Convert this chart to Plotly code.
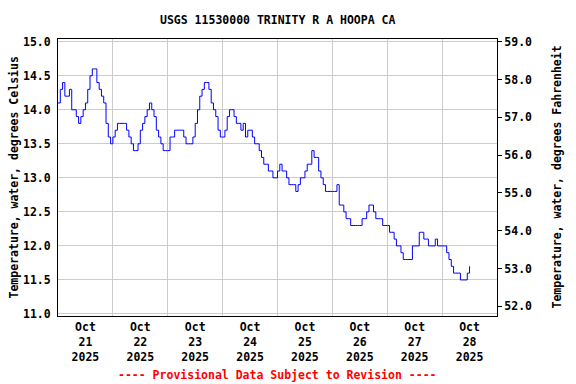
import pandas as pd
import plotly.graph_objects as go

title_text = "USGS 11530000 TRINITY R A HOOPA CA"
footer_text = "---- Provisional Data Subject to Revision ----"
left_title = "Temperature, water, degrees Celsius"
right_title = "Temperature, water, degrees Fahrenheit"

start_time = "2025-10-21 00:00"
x_range = ["2025-10-21 00:00", "2025-10-29 00:00"]

# Hourly water temperature, degrees Celsius
oct21 = [14.1, 14.3, 14.4, 14.2, 14.2, 14.3, 14.0, 14.0, 13.9, 13.8, 13.9, 14.0,
         14.1, 14.3, 14.5, 14.6, 14.6, 14.4, 14.3, 14.2, 14.1, 13.8, 13.6, 13.5]
oct22 = [13.6, 13.7, 13.8, 13.8, 13.8, 13.8, 13.7, 13.6, 13.5, 13.4, 13.4, 13.5,
         13.7, 13.8, 13.9, 14.0, 14.1, 14.0, 13.9, 13.7, 13.6, 13.5, 13.4, 13.4]
oct23 = [13.4, 13.6, 13.6, 13.7, 13.7, 13.7, 13.7, 13.6, 13.5, 13.5, 13.5, 13.6,
         13.8, 14.0, 14.2, 14.3, 14.4, 14.4, 14.3, 14.1, 14.0, 13.9, 13.7, 13.6]
oct24 = [13.6, 13.7, 13.9, 14.0, 14.0, 13.9, 13.8, 13.8, 13.7, 13.8, 13.6, 13.7,
         13.7, 13.6, 13.5, 13.5, 13.4, 13.3, 13.2, 13.2, 13.1, 13.1, 13.0, 13.0]
oct25 = [13.1, 13.2, 13.1, 13.1, 13.0, 12.9, 12.9, 12.9, 12.8, 12.9, 13.0, 13.0,
         13.1, 13.2, 13.2, 13.4, 13.3, 13.3, 13.1, 13.0, 12.9, 12.8, 12.8, 12.8]
oct26 = [12.8, 12.8, 12.9, 12.6, 12.6, 12.5, 12.4, 12.4, 12.3, 12.3, 12.3, 12.3,
         12.3, 12.4, 12.4, 12.5, 12.6, 12.6, 12.5, 12.4, 12.4, 12.4, 12.3, 12.3]
oct27 = [12.3, 12.2, 12.2, 12.1, 12.0, 12.0, 11.9, 11.8, 11.8, 11.8, 11.8, 12.0,
         12.0, 12.0, 12.2, 12.2, 12.1, 12.1, 12.0, 12.0, 12.0, 12.1, 12.0, 12.0]
oct28 = [12.0, 12.0, 11.9, 11.8, 11.7, 11.6, 11.6, 11.6, 11.5, 11.5, 11.5, 11.6, 11.7]

temps_c = oct21 + oct22 + oct23 + oct24 + oct25 + oct26 + oct27 + oct28
times = pd.date_range(start_time, periods=len(temps_c), freq="h")
temps_f = [c * 1.8 + 32 for c in temps_c]

c_range = [10.97, 15.04]
f_range = [c_range[0] * 1.8 + 32, c_range[1] * 1.8 + 32]

FONT = "DejaVu Sans Mono"
FS = 11.5

fig = go.Figure()
fig.add_trace(go.Scatter(x=times, y=temps_c, mode="lines",
                         line=dict(color="#0000ff", width=1, shape="hv"),
                         showlegend=False, hoverinfo="x+y"))
fig.add_trace(go.Scatter(x=times, y=temps_f, mode="lines", yaxis="y2",
                         line=dict(color="rgba(0,0,0,0)", width=0),
                         showlegend=False, hoverinfo="skip"))

fig.update_layout(
    width=576, height=384,
    margin=dict(l=58, r=79, t=39, b=68),
    paper_bgcolor="white", plot_bgcolor="white",
    font=dict(family=FONT, size=FS, color="black", weight="bold"),
    xaxis=dict(
        type="date", range=x_range, dtick=86400000, tick0="2025-10-21",
        ticklabelmode="period", tickformat="%b<br>%d<br>%Y",
        showgrid=True, gridcolor="#cccccc", gridwidth=1,
        showline=True, mirror=True, linecolor="black", linewidth=1,
        ticks="", zeroline=False,
        tickfont=dict(family=FONT, size=FS, color="black", weight="bold"),
    ),
    yaxis=dict(
        range=c_range, tick0=11.0, dtick=0.5, tickformat=".1f",
        showgrid=True, gridcolor="#cccccc", gridwidth=1,
        showline=True, mirror=True, linecolor="black", linewidth=1,
        ticks="", zeroline=False, ticklabelstandoff=4,
        tickfont=dict(family=FONT, size=FS, color="black", weight="bold"),
    ),
    yaxis2=dict(
        range=f_range, overlaying="y", side="right", tick0=52, dtick=1,
        tickformat=".1f", showgrid=False, zeroline=False,
        ticks="outside", ticklen=4, tickcolor="black", tickwidth=1,
        showline=False,
        tickfont=dict(family=FONT, size=FS, color="black", weight="bold"),
    ),
    annotations=[
        dict(text=title_text, xref="paper", yref="paper", x=0.5, y=(316 - 20) / 277,
             showarrow=False, xanchor="center", yanchor="middle",
             font=dict(family=FONT, size=FS, color="black", weight="bold")),
        dict(text=footer_text, xref="paper", yref="paper", x=0.5, y=(316 - 375) / 277,
             showarrow=False, xanchor="center", yanchor="middle",
             font=dict(family=FONT, size=FS, color="red", weight="bold")),
        dict(text=left_title, xref="paper", yref="paper", x=(13 - 58) / 439, y=0.5,
             textangle=-90, showarrow=False, xanchor="center", yanchor="middle",
             font=dict(family=FONT, size=FS, color="black", weight="bold")),
        dict(text=right_title, xref="paper", yref="paper", x=(556 - 58) / 439, y=0.5,
             textangle=-90, showarrow=False, xanchor="center", yanchor="middle",
             font=dict(family=FONT, size=FS, color="black", weight="bold")),
    ],
)

fig.write_html(
    "out.html",
    config={"displayModeBar": False},
    post_script="document.body.style.margin='0';document.body.style.overflow='hidden';",
)
